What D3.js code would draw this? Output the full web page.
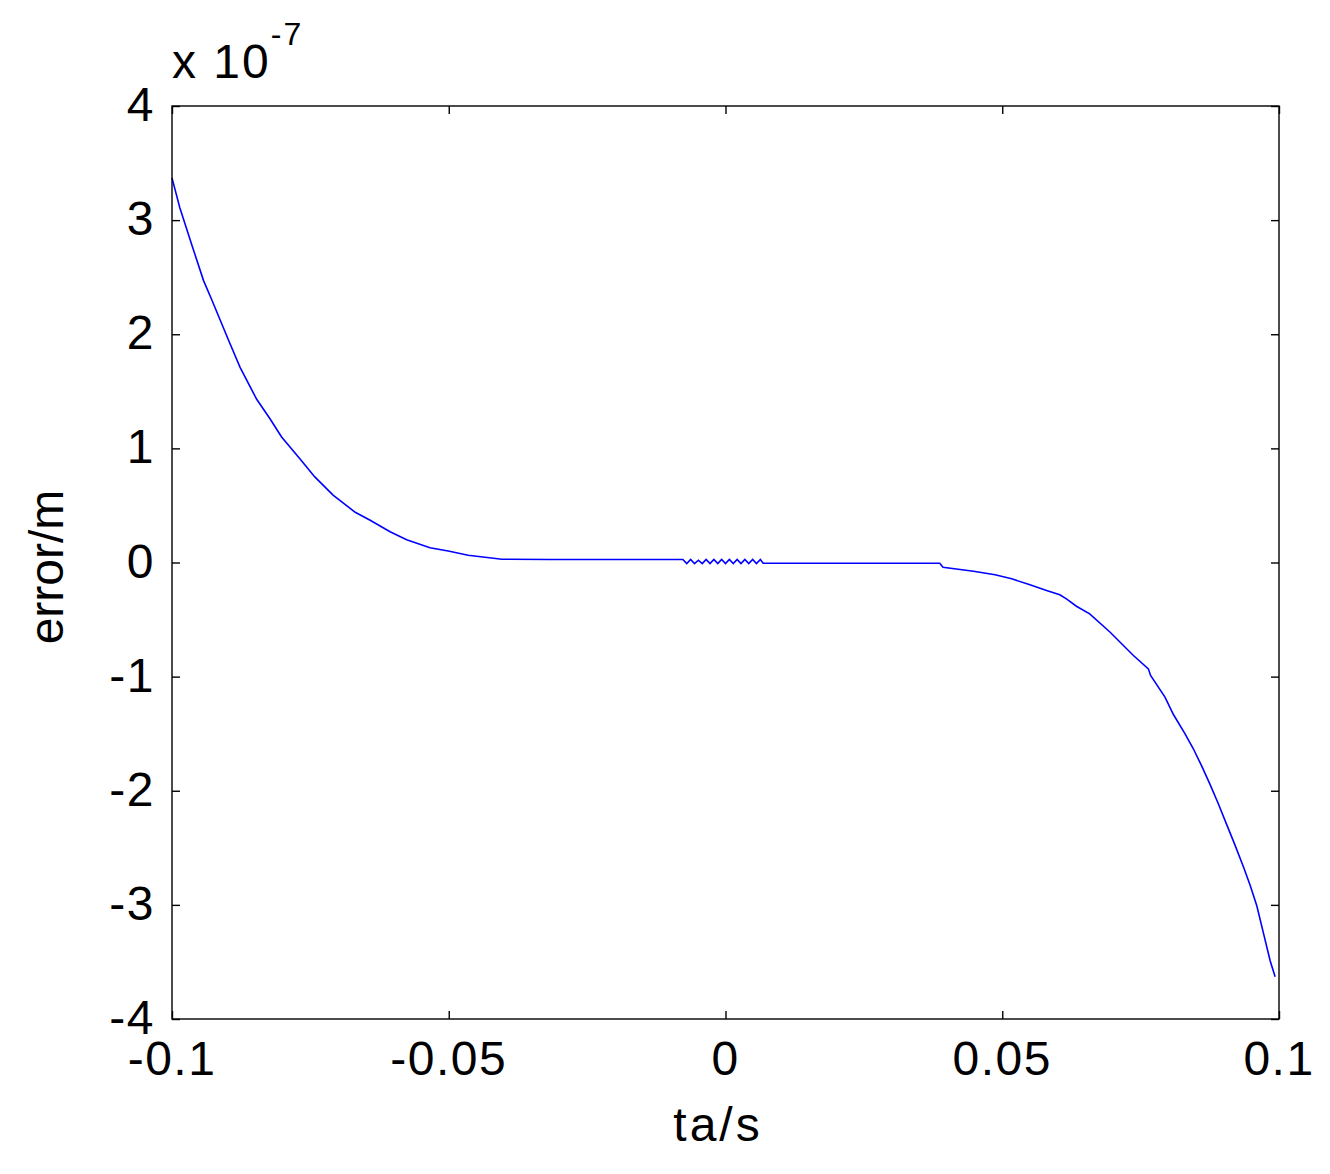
<!DOCTYPE html>
<html><head><meta charset="utf-8">
<script src="https://cdn.jsdelivr.net/npm/d3@7"></script>
<style>body{margin:0;background:#fff}text{font-family:"Liberation Sans",Arial,sans-serif;fill:#000}</style>
</head><body><svg id="c" width="1330" height="1174"></svg>
<script>
// time (s)
const tVals = [-0.1,-0.0986,-0.0964,-0.0943,-0.0928,-0.0898,-0.0877,-0.0847,-0.0823,-0.0802,-0.0769,-0.0742,-0.0709,-0.0669,-0.0642,-0.0606,-0.0576,-0.0534,-0.0501,-0.0465,-0.0404,-0.0317,-0.0077,-0.0070,-0.0063,-0.0056,-0.0049,-0.0042,-0.0035,-0.0028,-0.0021,-0.0014,-0.0007,0.0,0.0007,0.0014,0.0021,0.0028,0.0035,0.0042,0.0049,0.0056,0.0063,0.0068,0.0387,0.0393,0.0448,0.0487,0.0517,0.0550,0.0580,0.0604,0.0616,0.0634,0.0658,0.0695,0.0737,0.0764,0.0768,0.0794,0.0809,0.0830,0.0845,0.0860,0.0875,0.0890,0.0905,0.0920,0.0936,0.0948,0.0960,0.0972,0.0984,0.0993];
// error (x 1e-7 m)
const errVals = [3.37,3.11,2.78,2.47,2.30,1.95,1.71,1.43,1.26,1.10,0.91,0.75,0.59,0.44,0.37,0.27,0.20,0.13,0.10,0.064,0.029,0.026,0.026,-0.01,0.026,-0.01,0.02,-0.01,0.026,-0.01,0.026,-0.01,0.026,-0.01,0.026,-0.01,0.026,-0.01,0.026,-0.01,0.026,-0.01,0.026,-0.006,-0.006,-0.041,-0.076,-0.108,-0.143,-0.195,-0.245,-0.283,-0.318,-0.383,-0.450,-0.611,-0.815,-0.932,-0.99,-1.18,-1.33,-1.50,-1.63,-1.78,-1.94,-2.11,-2.29,-2.47,-2.67,-2.83,-3.01,-3.25,-3.49,-3.63];
const xTicks = [-0.1,-0.05,0,0.05,0.1];
const xTickLabels = ["-0.1","-0.05","0","0.05","0.1"];
const yTicks = [-4,-3,-2,-1,0,1,2,3,4];
const yTickLabels = ["-4","-3","-2","-1","0","1","2","3","4"];

const L=172,R=1279,T=106,B=1019;
const svg=d3.select("#c");
const x=d3.scaleLinear().domain([-0.1,0.1]).range([L,R]);
const y=d3.scaleLinear().domain([-4,4]).range([B,T]);
const data=tVals.map((t,i)=>[t,errVals[i]]);

svg.append("path").datum(data).attr("fill","none").attr("stroke","#0000ff").attr("stroke-width",1.6)
  .attr("d",d3.line().x(d=>x(d[0])).y(d=>y(d[1])));

const fs=48;
const ax=(g,axis)=>{g.call(axis);g.select(".domain").remove();g.selectAll("line").attr("stroke","#000").attr("stroke-width",1.4);g.selectAll("text").remove();};
svg.append("g").attr("transform",`translate(0,${B})`).call(g=>ax(g,d3.axisBottom(x).tickValues(xTicks).tickSize(-8)));
svg.append("g").attr("transform",`translate(0,${T})`).call(g=>ax(g,d3.axisTop(x).tickValues(xTicks).tickSize(-8)));
svg.append("g").attr("transform",`translate(${L},0)`).call(g=>ax(g,d3.axisLeft(y).tickValues(yTicks).tickSize(-8)));
svg.append("g").attr("transform",`translate(${R},0)`).call(g=>ax(g,d3.axisRight(y).tickValues(yTicks).tickSize(-8)));

svg.append("rect").attr("x",L).attr("y",T).attr("width",R-L).attr("height",B-T).attr("fill","none").attr("stroke","#000").attr("stroke-width",1.4);

svg.selectAll(".xl").data(xTicks).enter().append("text").attr("x",d=>x(d)).attr("y",1075)
  .attr("text-anchor","middle").attr("font-size",fs).attr("letter-spacing",1.5).text((d,i)=>xTickLabels[i]);
svg.selectAll(".yl").data(yTicks).enter().append("text").attr("x",155).attr("y",d=>y(d)+15)
  .attr("text-anchor","end").attr("font-size",fs).attr("letter-spacing",1.5).text((d,i)=>yTickLabels[i]);

svg.append("text").attr("x",718).attr("y",1141).attr("text-anchor","middle").attr("font-size",fs).attr("letter-spacing",3).text("ta/s");
svg.append("text").attr("transform","translate(63,567) rotate(-90)").attr("text-anchor","middle").attr("font-size",fs).text("error/m");

const ex=svg.append("text").attr("x",172).attr("y",78).attr("font-size",fs).attr("letter-spacing",2);
ex.append("tspan").text("x 10");
ex.append("tspan").attr("dy",-33).attr("font-size",32).text("-7");
</script></body></html>
